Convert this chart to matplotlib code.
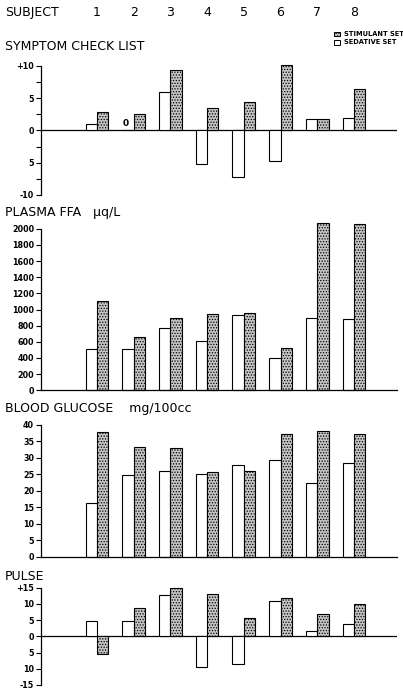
import matplotlib
matplotlib.use("Agg")
import matplotlib.pyplot as plt
import matplotlib.transforms as mtransforms
from matplotlib.ticker import FixedLocator
from matplotlib.patches import Rectangle
import numpy as np

plt.rcParams['font.family'] = ['DejaVu Sans']
plt.rcParams['hatch.linewidth'] = 0.6

subjects = ["1", "2", "3", "4", "5", "6", "7", "8"]

symptom_sedative = [1, 0, 6, -5.2, -7.2, -4.7, 1.8, 1.9]
symptom_stimulant = [2.9, 2.5, 9.4, 3.4, 4.4, 10.1, 1.8, 6.4]

ffa_sedative = [517, 517, 777, 612, 926, 402, 889, 880]
ffa_stimulant = [1107, 654, 889, 950, 959, 526, 2072, 2052]

glucose_sedative = [16.2, 24.8, 26.1, 25.0, 27.7, 29.5, 22.4, 28.4]
glucose_stimulant = [38.0, 33.3, 32.9, 25.8, 26.0, 37.2, 38.2, 37.2]

pulse_sedative = [4.7, 4.8, 12.9, -9.5, -8.5, 10.9, 1.7, 3.8]
pulse_stimulant = [-5.3, 8.7, 14.8, 13.0, 5.7, 11.9, 6.8, 9.9]

W, H = 403, 693
fig = plt.figure(figsize=(W / 100, H / 100), dpi=100)

XL, XR = 41, 397
x_min, x_max = -0.526, 9.174
pos = np.arange(1, len(subjects) + 1)
bw = 0.31


def make_ax(top_px, bottom_px):
    return fig.add_axes([XL / W, 1 - bottom_px / H, (XR - XL) / W, (bottom_px - top_px) / H])


tick_kw = dict(labelsize=5.8, length=3.5, width=0.8, pad=1.5)


def style(ax, zero_line):
    ax.set_xlim(x_min, x_max)
    ax.spines['top'].set_visible(False)
    ax.spines['right'].set_visible(False)
    ax.spines['left'].set_linewidth(0.9)
    ax.set_xticks([])
    if zero_line:
        ax.spines['bottom'].set_visible(False)
        ax.axhline(0, color='black', lw=0.9, zorder=1)
    else:
        ax.spines['bottom'].set_linewidth(0.9)
    ax.tick_params(axis='y', which='both', **tick_kw)
    for lab in ax.get_yticklabels():
        lab.set_fontweight('bold')


def draw(ax, sed, stim):
    ax.bar(pos - bw / 2, sed, width=bw, facecolor='white', edgecolor='black', lw=0.8, zorder=2, clip_on=False)
    ax.bar(pos + bw / 2, stim, width=bw, facecolor='#c4c4c4', edgecolor='black', hatch='......',
           lw=0.8, zorder=2, clip_on=False)


# Panel 1: symptom check list
ax1 = make_ax(65.7, 195)
ax1.set_ylim(-10, 10)
draw(ax1, symptom_sedative, symptom_stimulant)
ax1.set_yticks([10, 5, 0, -5, -10])
ax1.set_yticklabels(['+10', '5', '0', '5', '-10'])
ax1.yaxis.set_minor_locator(FixedLocator([7.5, 2.5, -2.5, -7.5]))
style(ax1, True)
for i, v in enumerate(symptom_sedative):
    if v == 0:
        ax1.text(pos[i] - bw / 2 - 0.05, 0.3, "0", ha='center', va='bottom', fontsize=6.5, fontweight='bold')

# Panel 2: plasma FFA
ax2 = make_ax(390.3 - 2100 * 0.0808, 390.3)
ax2.set_ylim(0, 2100)
draw(ax2, ffa_sedative, ffa_stimulant)
ax2.set_yticks(np.arange(0, 2001, 200))
ax2.spines['left'].set_bounds(0, 2000)
style(ax2, False)

# Panel 3: blood glucose
ax3 = make_ax(425, 556.7)
ax3.set_ylim(0, 40)
draw(ax3, glucose_sedative, glucose_stimulant)
ax3.set_yticks(np.arange(0, 41, 5))
style(ax3, False)

# Panel 4: pulse
ax4 = make_ax(587.7, 685)
ax4.set_ylim(-15, 15)
draw(ax4, pulse_sedative, pulse_stimulant)
ax4.set_yticks([15, 10, 5, 0, -5, -10, -15])
ax4.set_yticklabels(['+15', '10', '5', '0', '5', '10', '-15'])
style(ax4, True)

# Header texts
title_fs = 9
fig.text(5 / W, 1 - 12.5 / H, "SUBJECT", fontsize=title_fs, va='center', ha='left')
trans = mtransforms.blended_transform_factory(ax1.transData, fig.transFigure)
for p, s in zip(pos, subjects):
    fig.text(p, 1 - 12.5 / H, s, fontsize=title_fs, va='center', ha='center', transform=trans)

fig.text(5 / W, 1 - 47 / H, "SYMPTOM CHECK LIST", fontsize=title_fs, va='center', ha='left')
fig.text(5 / W, 1 - 213 / H, "PLASMA FFA   \u03bcq/L", fontsize=title_fs, va='center', ha='left')
fig.text(5 / W, 1 - 408 / H, "BLOOD GLUCOSE    mg/100cc", fontsize=title_fs, va='center', ha='left')
fig.text(5 / W, 1 - 577 / H, "PULSE", fontsize=title_fs, va='center', ha='left')

# Legend
fig.patches.append(Rectangle((334 / W, 1 - 36 / H), 6 / W, 4.5 / H, transform=fig.transFigure,
                             facecolor='#c4c4c4', edgecolor='black', hatch='......', lw=0.7))
fig.patches.append(Rectangle((334 / W, 1 - 44.5 / H), 6 / W, 4.5 / H, transform=fig.transFigure,
                             facecolor='white', edgecolor='black', lw=0.7))
fig.text(344 / W, 1 - 33.8 / H, "STIMULANT SET", fontsize=4.8, fontweight='bold', va='center', ha='left')
fig.text(344 / W, 1 - 42.3 / H, "SEDATIVE SET", fontsize=4.8, fontweight='bold', va='center', ha='left')

fig.savefig("out.png", dpi=100)
